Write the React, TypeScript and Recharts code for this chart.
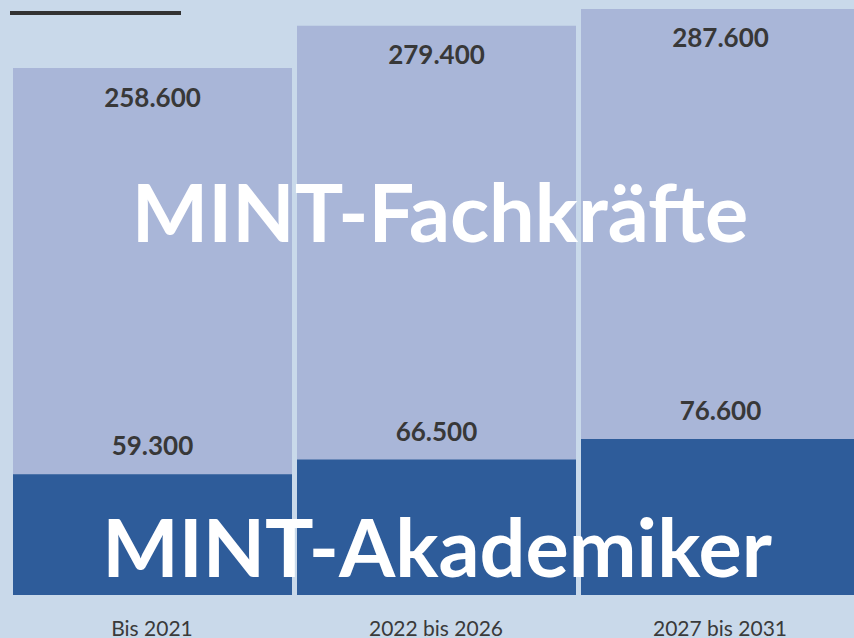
import { BarChart, Bar, XAxis, YAxis, LabelList } from 'recharts';

const zeitraeume = ['Bis 2021', '2022 bis 2026', '2027 bis 2031'];
const fachkraefte = [258600, 279400, 287600];
const akademiker = [59300, 66500, 76600];
const serienNamen = ['MINT-Fachkräfte', 'MINT-Akademiker'];

const data = zeitraeume.map((zeitraum, i) => ({
  zeitraum,
  fachkraefte: fachkraefte[i],
  akademiker: akademiker[i],
}));

const fmt = (v: number) => String(v).replace(/\B(?=(\d{3})+(?!\d))/g, '.');

const font = 'Lato, "Noto Sans", sans-serif';

export default function App() {
  return (
    <div style={{ width: 854, height: 638, overflow: 'hidden', position: 'relative' }}>
      <style>{'body{margin:0;background:#c9d9ea;}'}</style>
      <BarChart
        width={866}
        height={680}
        data={data}
        margin={{ top: 9, right: 4, left: 10, bottom: 0 }}
        style={{ fontFamily: font }}
      >
        <XAxis
          xAxisId="cat"
          dataKey="zeitraum"
          axisLine={false}
          tickLine={false}
          tickSize={0}
          tickMargin={26}
          height={85}
          interval={0}
          tick={{ fill: '#3a3a3a', fontSize: 21, fontFamily: font }}
        />
        <XAxis xAxisId="over" dataKey="zeitraum" hide />
        <YAxis hide domain={[0, 'dataMax']} />
        <Bar xAxisId="cat" dataKey="fachkraefte" fill="#a9b6d8" barSize={279} isAnimationActive={false}>
          <LabelList
            dataKey="fachkraefte"
            position="insideTop"
            offset={20}
            formatter={fmt}
            style={{ fill: '#383838', fontSize: 26, fontWeight: 700, fontFamily: font }}
          />
        </Bar>
        <Bar xAxisId="over" dataKey="akademiker" fill="#2e5c9a" barSize={279} isAnimationActive={false}>
          <LabelList
            dataKey="akademiker"
            position="top"
            offset={19}
            formatter={fmt}
            style={{ fill: '#383838', fontSize: 26, fontWeight: 700, fontFamily: font }}
          />
        </Bar>
      </BarChart>
      {/* series names and the short rule sit on top of the bars */}
      <svg
        width={854}
        height={638}
        style={{ position: 'absolute', left: 0, top: 0, pointerEvents: 'none' }}
      >
        <rect x={10} y={11} width={171} height={4} fill="#333333" />
        <text x={440} y={242} textAnchor="middle" fill="#ffffff" fontSize={81} fontWeight={700} fontFamily={font}>
          {serienNamen[0]}
        </text>
        <text x={437} y={577} textAnchor="middle" fill="#ffffff" fontSize={81} fontWeight={700} fontFamily={font}>
          {serienNamen[1]}
        </text>
      </svg>
    </div>
  );
}
